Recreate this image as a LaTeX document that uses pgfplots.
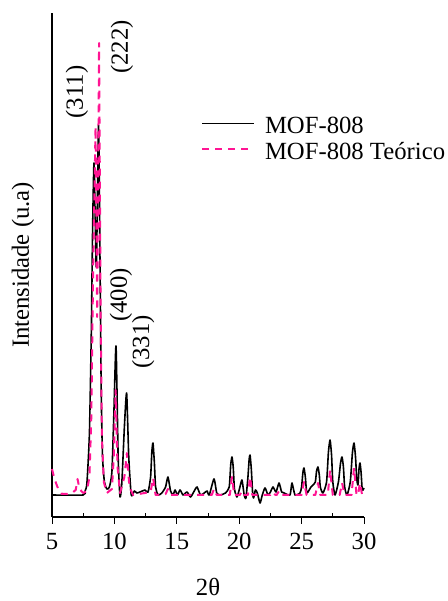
\documentclass[border=0pt]{standalone}
\usepackage{fontspec}
\setmainfont{Liberation Serif}
\usepackage{pgfplots}
\pgfplotsset{compat=1.18}
\definecolor{tpink}{HTML}{FF1493}
\newcommand\ff{\fontsize{24.7pt}{29pt}\selectfont}
\begin{document}
\begin{tikzpicture}
\begin{axis}[
  at={(52pt,84pt)}, anchor=south west,
  scale only axis, width=312pt, height=504pt,
  xmin=5, xmax=30, ymin=0, ymax=504,
  axis x line*=bottom, axis y line*=left,
  axis line style={line width=1.2pt,-},
  xtick={5,10,...,30}, minor xtick={7.5,12.5,...,27.5},
  ytick=\empty, minor ytick={25,70,...,475},
  tick align=outside, major tick length=7pt, minor tick length=-3.5pt,
  tick style={line width=1pt, black},
  /pgf/number format/assume math mode=true,
  xticklabel style={font=\ff, anchor=base, yshift=-25pt},
  xlabel={2θ}, ylabel={Intensidade (u.a)},
  xlabel style={font=\ff, at={(axis description cs:0.5,-0.139)}, anchor=center},
  ylabel style={font=\ff, at={(axis description cs:-0.093,0.5)}, anchor=center},
  clip=false,
  legend cell align=left,
  legend style={draw=none, fill=none, inner sep=0pt, outer sep=0pt,
    at={(axis description cs:0.4776,0.7937)}, anchor=north west, font=\ff,
    row sep=4pt, column sep=10pt,
    nodes={inner sep=0pt, text height=17pt, text depth=5pt}},
  legend image code/.code={\draw[#1] (0pt,4.5pt) -- (52pt,4.5pt);},
]
\addplot[black, line width=1.6pt, line join=round, smooth, tension=0.35] coordinates {
(5.0,22) (7.5,22) (7.65,26) (7.8,34) (8.0,84) (8.15,184) (8.25,284) (8.37,354)
(8.55,250) (8.73,392) (8.85,250) (8.95,120) (9.05,60) (9.2,35) (9.4,28) (9.6,30)
(9.8,45) (9.95,100) (10.13,171) (10.3,60) (10.45,20) (10.6,35) (10.8,90) (10.98,124)
(11.15,60) (11.35,22) (11.6,26) (11.8,24) (12.05,25) (12.45,27) (12.7,25) (12.9,40)
(13.0,65) (13.09,74) (13.2,55) (13.3,30) (13.5,22) (13.8,24) (14.1,30) (14.29,40) (14.5,26) (14.7,22)
(14.86,27) (15.05,22) (15.26,27) (15.5,22) (15.82,25) (16.1,20) (16.4,26) (16.62,30)
(16.9,22) (17.2,24) (17.42,26) (17.6,22) (17.98,38) (18.2,24) (18.46,22) (18.9,24)
(19.2,30) (19.32,52) (19.42,60) (19.52,50) (19.62,28) (19.82,20) (20.02,28) (20.22,37) (20.4,22) (20.54,19)
(20.7,40) (20.8,58) (20.87,62) (20.97,48) (21.07,25) (21.15,19) (21.3,27) (21.45,24) (21.67,14) (21.85,22)
(22.07,29) (22.31,22) (22.5,25) (22.71,30) (22.95,25) (23.19,34) (23.4,25) (23.6,24)
(24.07,22) (24.23,34) (24.47,22) (24.87,24) (25.0,30) (25.1,44) (25.19,49) (25.3,40) (25.4,25) (25.51,25)
(25.75,30) (25.91,32) (26.1,35) (26.2,46) (26.31,50) (26.42,42) (26.5,30) (26.71,24) (27.0,35) (27.15,65) (27.28,77)
(27.4,62) (27.5,35) (27.68,22) (27.95,35) (28.12,54) (28.24,60) (28.35,50) (28.45,30) (28.64,22) (28.9,35) (29.07,64) (29.2,74)
(29.32,60) (29.42,38) (29.52,32) (29.6,48) (29.68,54) (29.77,44) (29.85,28) (29.92,27) (30.0,29)
};
\addlegendentry{MOF-808}
\addplot[tpink, line width=2pt, dash pattern=on 7pt off 6pt, line join=round] coordinates {
(5.0,48) (5.2,38) (5.5,28) (5.8,23) (6.2,23) (6.6,24) (6.9,27) (7.05,38) (7.2,28)
(7.5,24) (7.8,26) (8.0,40) (8.15,100) (8.3,250) (8.49,390) (8.62,200) (8.77,474)
(8.9,200) (9.0,80) (9.15,35) (9.4,24) (9.8,28) (9.95,60) (10.1,127) (10.25,50)
(10.45,24) (10.8,40) (11.0,64) (11.2,30) (11.5,22) (12.9,25) (13.1,39) (13.3,22)
(14.1,23) (14.29,28) (14.5,22) (17.8,22) (17.98,28) (18.2,22) (19.25,22) (19.42,40)
(19.6,22) (20.05,22) (20.22,26) (20.4,22) (20.7,22) (20.87,40) (21.05,22) (22.5,22)
(22.7,25) (22.9,22) (23.0,22) (23.19,26) (23.4,22) (25.0,22) (25.19,35) (25.4,22)
(26.1,22) (26.31,34) (26.5,22) (27.1,22) (27.28,47) (27.5,22) (28.05,22) (28.24,34)
(28.45,22) (29.0,22) (29.2,49) (29.4,22) (29.52,22) (29.68,34) (29.85,22) (30.0,22)
};
\addlegendentry{MOF-808 Teórico}
\node[rotate=90, font=\ff, inner sep=0pt] at (axis cs:7.0,425) {(311)};
\node[rotate=90, font=\ff, inner sep=0pt] at (axis cs:10.6,470) {(222)};
\node[rotate=90, font=\ff, inner sep=0pt] at (axis cs:10.53,222) {(400)};
\node[rotate=90, font=\ff, inner sep=0pt] at (axis cs:12.3,175) {(331)};
\end{axis}
\pgfresetboundingbox
\path[use as bounding box] (0,0) rectangle (447pt,601pt);
\end{tikzpicture}
\end{document}
